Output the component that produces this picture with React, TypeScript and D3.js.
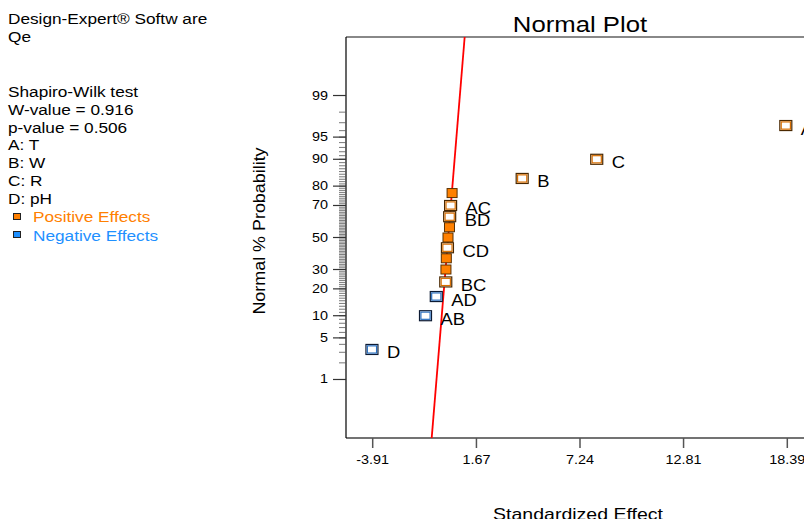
import React from 'react';
import * as d3 from 'd3';

// effects sorted by size, with the normal % probability of each rank
const terms = ["D", "AB", "AD", "BC", "", "", "CD", "", "", "BD", "AC", "", "B", "C", "A"];
const effects = [-3.95, -1.07, -0.49, 0.02, 0.03, 0.05, 0.11, 0.14, 0.22, 0.23, 0.28, 0.36, 4.13, 8.14, 18.31];
const probabilities = [3.33, 10, 16.67, 23.33, 30, 36.67, 43.33, 50, 56.67, 63.33, 70, 76.67, 83.33, 90, 96.67];
const selected = [true, true, true, true, false, false, true, false, false, true, true, false, true, true, true];

const xTicks = [-3.91, 1.67, 7.24, 12.81, 18.39];
const yTicks = [1, 5, 10, 20, 30, 50, 70, 80, 90, 95, 99];

// fitted line: effect = intercept + slope * z
const fitIntercept = 0.15;
const fitSlope = 0.27;

const infoLines = ["Shapiro-Wilk test", "W-value = 0.916", "p-value = 0.506", "A: T", "B: W", "C: R", "D: pH"];

const FONT = '"Liberation Sans", Arial, sans-serif';
const ORANGE = '#FF8000';
const BLUE = '#1E90FF';

// inverse normal cdf (Acklam)
function probit(p: number): number {
  const a = [-39.69683028665376, 220.9460984245205, -275.9285104469687, 138.357751867269, -30.66479806614716, 2.506628277459239];
  const b = [-54.47609879822406, 161.5858368580409, -155.6989798598866, 66.80131188771972, -13.28068155288572];
  const c = [-0.007784894002430293, -0.3223964580411365, -2.400758277161838, -2.549732539343734, 4.374664141464968, 2.938163982698783];
  const d = [0.007784695709041462, 0.3224671290700398, 2.445134137142996, 3.754408661907416];
  const pl = 0.02425;
  if (p < pl) {
    const q = Math.sqrt(-2 * Math.log(p));
    return (((((c[0] * q + c[1]) * q + c[2]) * q + c[3]) * q + c[4]) * q + c[5]) / ((((d[0] * q + d[1]) * q + d[2]) * q + d[3]) * q + 1);
  }
  if (p > 1 - pl) {
    const q = Math.sqrt(-2 * Math.log(1 - p));
    return -(((((c[0] * q + c[1]) * q + c[2]) * q + c[3]) * q + c[4]) * q + c[5]) / ((((d[0] * q + d[1]) * q + d[2]) * q + d[3]) * q + 1);
  }
  const q = p - 0.5;
  const r = q * q;
  return (((((a[0] * r + a[1]) * r + a[2]) * r + a[3]) * r + a[4]) * r + a[5]) * q / (((((b[0] * r + b[1]) * r + b[2]) * r + b[3]) * r + b[4]) * r + 1);
}

const left = 346, right = 814, top = 37, bottom = 438;
const zMax = 3.285;

const x = d3.scaleLinear().domain([-5.346, 19.826]).range([left, right]);
const yz = d3.scaleLinear().domain([-zMax, zMax]).range([bottom, top]);
const y = (pct: number) => yz(probit(pct / 100));

// wide text (the reference is stretched horizontally)
const T = ({ tx, ty, size, anchor = 'start', fill = '#000', sx = 1.2, rotate = 0, children }: any) => (
  <text
    transform={`translate(${tx},${ty}) rotate(${rotate}) scale(${sx},1)`}
    fontSize={size}
    textAnchor={anchor}
    fill={fill}
    fontFamily={FONT}
  >
    {children}
  </text>
);

export default function App() {
  const minor = d3.range(1, 100);
  const line = d3.line<number>()
    .x(z => x(fitIntercept + fitSlope * z))
    .y(z => yz(z));

  return (
    <svg width={804} height={519} style={{ position: 'absolute', left: 0, top: 0, background: '#fff' }}>
      {/* left info block */}
      <T tx={8} ty={24} size={14} sx={1.23}>Design-Expert® Softw are</T>
      <T tx={8} ty={42} size={14} sx={1.23}>Qe</T>
      {infoLines.map((s, i) => (
        <T key={s} tx={8} ty={97 + i * 17.8} size={14} sx={1.23}>{s}</T>
      ))}
      <rect x={13.5} y={213.5} width={7} height={6} fill={ORANGE} stroke="#222" strokeWidth={1} />
      <T tx={33} ty={222} size={14} sx={1.23} fill={ORANGE}>Positive Effects</T>
      <rect x={13.5} y={231.5} width={7} height={6} fill={BLUE} stroke="#222" strokeWidth={1} />
      <T tx={33} ty={240.5} size={14} sx={1.23} fill={BLUE}>Negative Effects</T>

      {/* title */}
      <T tx={580} ty={32} size={22} sx={1.17} anchor="middle">Normal Plot</T>

      {/* frame */}
      <line x1={left} x2={right} y1={top} y2={top} stroke="#888" strokeWidth={2} />
      <line x1={left} x2={right} y1={bottom} y2={bottom} stroke="#444" strokeWidth={1.5} />
      <line x1={left} x2={left} y1={top} y2={bottom} stroke="#000" strokeWidth={1.2} />

      {/* y axis */}
      {minor.map(p => (
        <line key={'m' + p} x1={left - 7} x2={left} y1={y(p)} y2={y(p)} stroke="#555" strokeWidth={0.8} />
      ))}
      {yTicks.map(p => (
        <g key={'y' + p}>
          <line x1={left - 13} x2={left} y1={y(p)} y2={y(p)} stroke="#333" strokeWidth={1.2} />
          <T tx={328} ty={y(p) + 4} size={12} anchor="end">{p}</T>
        </g>
      ))}
      <T tx={265} ty={231} size={16} sx={1.12} rotate={-90} anchor="middle">Normal % Probability</T>

      {/* x axis */}
      {xTicks.map(v => (
        <g key={'x' + v}>
          <line x1={x(v)} x2={x(v)} y1={bottom} y2={bottom + 10} stroke="#555" strokeWidth={1.5} />
          <T tx={x(v)} ty={464} size={12} anchor="middle">{v.toFixed(2)}</T>
        </g>
      ))}
      <T tx={578} ty={520} size={16} sx={1.22} anchor="middle">Standardized Effect</T>

      {/* fitted line */}
      <path d={line([-zMax, zMax]) || ''} stroke="#FF0000" strokeWidth={1.8} fill="none" />

      {/* points */}
      {effects.map((e, i) => {
        const cx = x(e);
        const cy = y(probabilities[i]);
        const pos = e >= 0;
        if (!selected[i]) {
          return (
            <rect key={'p' + i} x={cx - 5} y={cy - 4.5} width={10} height={9}
              fill={ORANGE} stroke="#5a3000" strokeWidth={1} />
          );
        }
        return (
          <g key={'p' + i}>
            <rect x={cx - 6} y={cy - 5} width={12} height={10} fill="#fff"
              stroke={pos ? '#4a2800' : '#0c1a33'} strokeWidth={1.2} />
            <rect x={cx - 4.6} y={cy - 3.6} width={9.2} height={7.2} fill="#fff"
              stroke={pos ? '#d86e00' : '#2a6fbf'} strokeWidth={1.2} />
            <T tx={cx + 15} ty={cy + 9} size={16} sx={1.15}>{terms[i]}</T>
          </g>
        );
      })}
    </svg>
  );
}
